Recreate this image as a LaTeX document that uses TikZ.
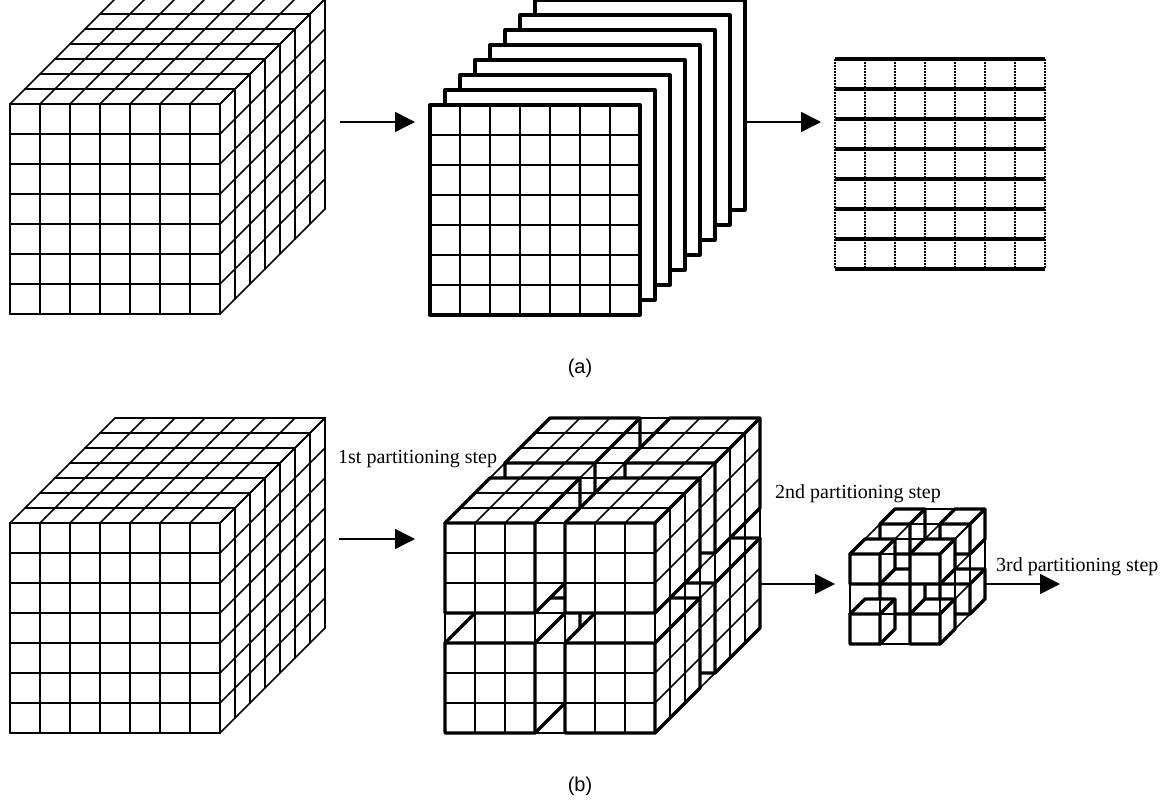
\documentclass[tikz,border=0pt]{standalone}
\usepackage{fontspec}
\setmainfont{Liberation Serif}
\newfontfamily\capfont{Liberation Sans}
\usetikzlibrary{arrows.meta}
\tikzset{
  thinline/.style={line width=1.7pt,black,line cap=round},
  thickline/.style={line width=3.3pt,black,line join=round,line cap=round},
  flow/.style={line width=1.5pt,-{Triangle[length=20pt,width=20pt]}},
  steplabel/.style={font=\fontsize{20}{24}\selectfont,inner sep=0pt,anchor=base west},
  caplabel/.style={font=\capfont\fontsize{20}{24}\selectfont,inner sep=0pt},
  hardot/.style={line width=1.6pt,dash pattern=on 1.6pt off 1.4pt},
}
% thin 3D grid, n cells on an edge
\newcommand{\cubegrid}[1]{%
  \foreach \k in {0,...,#1}{
    \draw[thinline] (\k,0,0)--(\k,#1,0)--(\k,#1,#1);
    \draw[thinline] (0,\k,0)--(#1,\k,0)--(#1,\k,#1);
    \draw[thinline] (0,#1,\k)--(#1,#1,\k)--(#1,0,\k);
  }}
% one thick box: corner (u,v,w), edge a
\newcommand{\subbox}[4]{%
  \pgfmathsetmacro{\ua}{#1+#4}\pgfmathsetmacro{\va}{#2+#4}\pgfmathsetmacro{\wa}{#3+#4}
  \fill[white] (#1,#2,#3)--(\ua,#2,#3)--(\ua,#2,\wa)--(\ua,\va,\wa)--(#1,\va,\wa)--(#1,\va,#3)--cycle;
  \draw[thickline] (#1,#2,#3)--(\ua,#2,#3)--(\ua,#2,\wa)--(\ua,\va,\wa)--(#1,\va,\wa)--(#1,\va,#3)--cycle;
  \draw[thickline] (#1,\va,#3)--(\ua,\va,#3)--(\ua,#2,#3) (\ua,\va,#3)--(\ua,\va,\wa);
}
% whole partitioned cube: sub-box edge a, gap 1
\newcommand{\partcube}[1]{%
  \pgfmathtruncatemacro{\pp}{#1+1}\pgfmathtruncatemacro{\nn}{2*#1+1}
  \foreach \w in {\pp,0}{\foreach \v in {0,\pp}{\foreach \u in {0,\pp}{
     \subbox{\u}{\v}{\w}{#1}
  }}}
  \cubegrid{\nn}
}
\begin{document}
\begin{tikzpicture}[x=1pt,y=1pt]
\useasboundingbox (0,-805) rectangle (1160,0);
\fill[white] (0,-805) rectangle (1160,0);
\tikzset{cubeaxes/.style={x={(30pt,0pt)},y={(0pt,30pt)},z={(15pt,15pt)}}}
% (a) cube
\begin{scope}[shift={(10,-314)},cubeaxes]
  \cubegrid{7}
\end{scope}
% (a) stack of slices
\foreach \i in {7,...,1}{
  \pgfmathsetmacro{\sx}{430+15*\i}\pgfmathsetmacro{\sy}{-315+15*\i}
  \draw[thickline,fill=white] (\sx,\sy) rectangle ++(210,210);
}
\begin{scope}[shift={(430,-315)},cubeaxes]
  \fill[white] (0,0) rectangle (7,7);
  \foreach \k in {1,...,6}{
    \draw[thinline] (\k,0)--(\k,7);
    \draw[thinline] (0,\k)--(7,\k);
  }
  \draw[thickline] (0,0) rectangle (7,7);
\end{scope}
% (a) grid of lines
\foreach \i in {0,...,7}{
  \pgfmathsetmacro{\gx}{835+30*\i}
  \draw[hardot] (\gx,-59) -- (\gx,-269);
  \pgfmathsetmacro{\gy}{-59-30*\i}
  \draw[line width=3.3pt] (835,\gy) -- (1045,\gy);
}
\coordinate (a1s) at (340,-122); \coordinate (a1e) at (415,-122);
\coordinate (a2s) at (746,-122); \coordinate (a2e) at (821,-122);
\draw[flow] (a1s) -- (a1e);
\draw[flow] (a2s) -- (a2e);
\node[caplabel] (capa) at (580,-368) {(a)};
% (b) cube
\begin{scope}[shift={(10,-733)},cubeaxes]
  \cubegrid{7}
\end{scope}
% (b) partitioned cube
\begin{scope}[shift={(445,-733)},cubeaxes]
  \partcube{3}
\end{scope}
% (b) small partitioned cube
\begin{scope}[shift={(850,-644)},cubeaxes]
  \partcube{1}
\end{scope}
\coordinate (b1s) at (339,-539); \coordinate (b1e) at (415,-539);
\coordinate (b2s) at (761,-584); \coordinate (b2e) at (835,-584);
\coordinate (b3s) at (985,-584); \coordinate (b3e) at (1060,-584);
\draw[flow] (b1s) -- (b1e);
\draw[flow] (b2s) -- (b2e);
\draw[flow] (b3s) -- (b3e);
\node[steplabel] (s1) at (338,-463) {1st partitioning step};
\node[steplabel] (s2) at (775,-498) {2nd partitioning step};
\node[steplabel] (s3) at (996,-571) {3rd partitioning step};
\node[caplabel] (capb) at (580,-786) {(b)};
\end{tikzpicture}
\end{document}
